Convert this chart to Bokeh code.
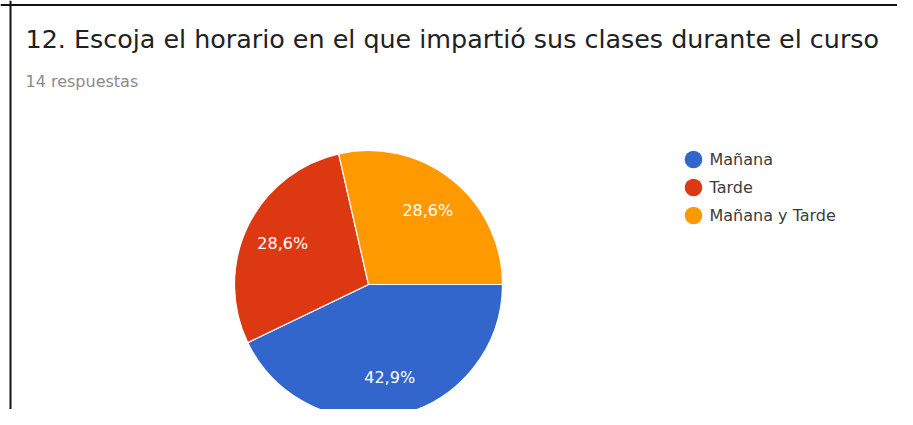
import math
from bokeh.plotting import figure
from bokeh.models import Range1d, Span, ColumnDataSource
from bokeh.core.properties import value
from bokeh.embed import file_html
from bokeh.resources import INLINE

# ---- data ----
title_text = "12. Escoja el horario en el que impartió sus clases durante el curso"
subtitle_text = "14 respuestas"
categories = ["Mañana", "Tarde", "Mañana y Tarde"]
counts = [6, 4, 4]
colors = ["#3366cc", "#dc3912", "#ff9900"]

W, H = 897, 409
p = figure(width=W, height=H, output_backend="svg", toolbar_location=None,
           x_range=Range1d(0, W), y_range=Range1d(0, H), min_border=0)
p.axis.visible = False
p.grid.visible = False
p.outline_line_color = None
p.background_fill_color = "white"
p.border_fill_color = "white"

# border (left + top)
p.add_layout(Span(location=10, dimension="height", line_color="#111111", line_width=2))
p.add_layout(Span(location=H - 4.5, dimension="width", line_color="#111111", line_width=2))

# title and subtitle
p.text(x=[25], y=[371], text=[title_text], text_font=value("DejaVu Sans"),
       text_font_size="25.4px", text_color="#212121", text_baseline="alphabetic")
p.text(x=[25], y=[328], text=[subtitle_text], text_font=value("DejaVu Sans"),
       text_font_size="16px", text_color="#8c8c8c", text_baseline="alphabetic")

# pie
cx, cy, R = 368, 125, 134
total = sum(counts)
starts, ends, mids, labels = [], [], [], []
acc = 0.0
for c in counts:
    a0 = -acc / total * 2 * math.pi
    acc += c
    a1 = -acc / total * 2 * math.pi
    starts.append(a0)
    ends.append(a1)
    mids.append((a0 + a1) / 2)
    labels.append(("%.1f" % (c / total * 100)).replace(".", ",") + "%")

src = ColumnDataSource(dict(start=starts, end=ends, color=colors))
p.wedge(x=cx, y=cy, radius=R, start_angle="start", end_angle="end",
        direction="clock", fill_color="color", line_color="white",
        line_width=1.2, source=src)

lf = 0.71
lx = [cx + lf * R * math.cos(m) for m in mids]
ly = [cy + lf * R * math.sin(m) for m in mids]
p.text(x=lx, y=ly, text=labels, text_font=value("DejaVu Sans"),
       text_font_size="16px", text_color="white", text_align="center",
       text_baseline="middle")

# legend
lgx, lgy, step = 693, 250, 28
leg_y = [lgy - i * step for i in range(len(categories))]
p.circle(x=[lgx] * len(categories), y=leg_y, radius=8.8, fill_color=colors,
         line_color=None)
p.text(x=[lgx + 16] * len(categories), y=leg_y, text=categories,
       text_font=value("DejaVu Sans"), text_font_size="16px",
       text_color="#3c3c3c", text_baseline="middle")

open("out.html", "w").write(file_html(p, INLINE))
